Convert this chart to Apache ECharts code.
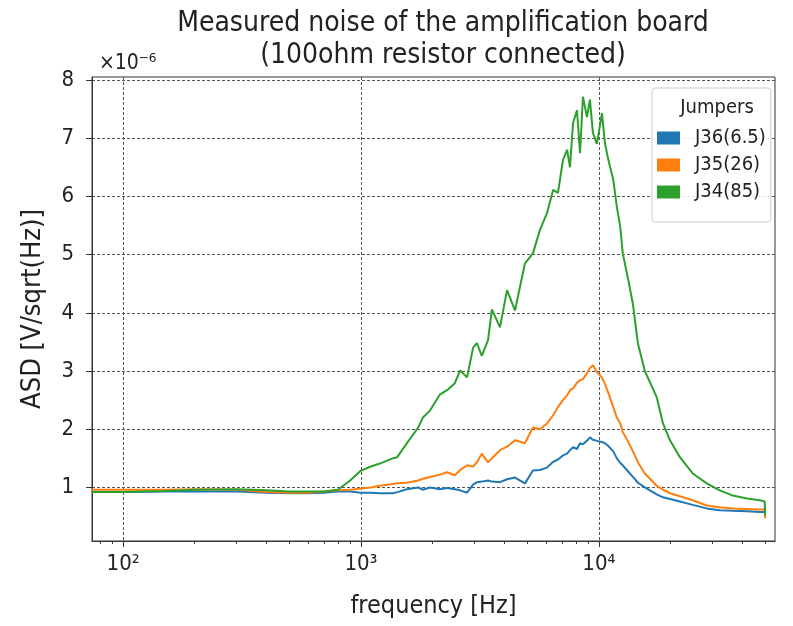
<!DOCTYPE html>
<html>
<head>
<meta charset="utf-8">
<script src="https://cdn.jsdelivr.net/npm/echarts@6/dist/echarts.min.js"></script>
<style>
  html, body { margin: 0; padding: 0; background: #fff; }
  #main { width: 793px; height: 626px; }
</style>
</head>
<body>
<div id="main"></div>
<script>
// frequency grid [Hz]
var freq = [74, 100, 150, 200, 300, 400, 500, 600, 700, 800, 900, 1000, 1100, 1200, 1360, 1420,
  1560, 1740, 1820, 1950, 2150, 2300, 2480, 2610, 2790, 2960, 3070, 3220, 3420, 3550, 3840, 4110,
  4440, 4890, 5280, 5650, 6050, 6420, 6730, 7060, 7350, 7560, 7790, 8090, 8330, 8570, 8910, 9170,
  9440, 9810, 10300, 10600, 10900, 11500, 11900, 12300, 12600, 13300, 13900, 14600, 15600, 17500,
  18600, 19900, 21900, 24800, 28400, 32200, 36600, 41900, 47500, 49800, 50000];

// ASD values, x1e-6 V/sqrt(Hz)
var j36 = [0.92, 0.92, 0.93, 0.93, 0.93, 0.91, 0.90, 0.90, 0.91, 0.93, 0.93, 0.91, 0.91, 0.90, 0.90, 0.92,
  0.97, 1.00, 0.96, 1.00, 0.97, 0.99, 0.97, 0.95, 0.91, 1.05, 1.09, 1.10, 1.12, 1.10, 1.09, 1.14,
  1.17, 1.07, 1.29, 1.30, 1.34, 1.44, 1.48, 1.55, 1.58, 1.64, 1.69, 1.66, 1.76, 1.74, 1.80, 1.86,
  1.82, 1.80, 1.78, 1.76, 1.72, 1.62, 1.50, 1.42, 1.38, 1.27, 1.18, 1.08, 1.00, 0.88,
  0.83, 0.80, 0.76, 0.70, 0.64, 0.61, 0.60, 0.59, 0.58, 0.58, 0.55];

var j35 = [0.96, 0.96, 0.96, 0.97, 0.96, 0.92, 0.91, 0.91, 0.93, 0.95, 0.96, 0.98, 1.00, 1.03, 1.06, 1.07,
  1.08, 1.12, 1.15, 1.18, 1.22, 1.26, 1.21, 1.30, 1.38, 1.36, 1.43, 1.58, 1.43, 1.50, 1.64, 1.70,
  1.81, 1.76, 2.03, 2.00, 2.10, 2.24, 2.38, 2.50, 2.58, 2.67, 2.70, 2.80, 2.84, 2.86, 2.96, 3.05,
  3.10, 2.98, 2.89, 2.78, 2.65, 2.38, 2.20, 2.10, 1.95, 1.78, 1.62, 1.43, 1.24, 1.03,
  0.96, 0.90, 0.85, 0.78, 0.69, 0.66, 0.64, 0.63, 0.62, 0.62, 0.47];

var j34 = [0.92, 0.92, 0.94, 0.96, 0.97, 0.95, 0.93, 0.93, 0.93, 0.96, 1.12, 1.29, 1.36, 1.41, 1.50, 1.52,
  1.76, 2.03, 2.20, 2.32, 2.60, 2.67, 2.79, 3.01, 2.89, 3.40, 3.48, 3.26, 3.53, 4.06, 3.75, 4.39,
  4.04, 4.85, 5.02, 5.42, 5.71, 6.11, 6.06, 6.62, 6.80, 6.50, 7.26, 7.48, 6.74, 7.71, 7.36, 7.66,
  7.09, 6.90, 7.43, 6.92, 6.67, 6.28, 5.82, 5.47, 5.02, 4.56, 4.15, 3.47, 3.00, 2.55,
  2.10, 1.81, 1.52, 1.24, 1.07, 0.95, 0.86, 0.81, 0.78, 0.76, 0.52];

var seriesNames = ['J36(6.5)', 'J35(26)', 'J34(85)'];
var colors = ['#1f77b4', '#ff7f0e', '#2ca02c'];
var xMajor = [100, 1000, 10000];
var xMinor = [80, 90, 200, 300, 400, 500, 600, 700, 800, 900, 2000, 3000, 4000, 5000, 6000, 7000, 8000, 9000, 20000, 30000, 40000, 50000];
var yTicks = [1, 2, 3, 4, 5, 6, 7, 8];

function pairs(vals) {
    var out = [];
    for (var i = 0; i < freq.length; i++) out.push([freq[i], vals[i]]);
    return out;
}

var myChart = echarts.init(document.getElementById('main'));
var font = "'DejaVu Sans Condensed', 'DejaVu Sans'";
var sup = { 100: '10²', 1000: '10³', 10000: '10⁴' };

var option = {
    animation: false,
    color: colors,
    textStyle: { fontFamily: font },
    title: [
        {
            text: 'Measured noise of the amplification board\n(100ohm resistor connected)',
            left: 438, top: 3, textAlign: 'center',
            textStyle: { fontSize: 28, fontWeight: 'normal', color: '#222', lineHeight: 32, fontFamily: font }
        },
        {
            text: '×10⁻⁶', left: 94, top: 48,
            textStyle: { fontSize: 21, fontWeight: 'normal', color: '#222', fontFamily: font }
        },
        {
            text: 'Jumpers', left: 712, top: 93, textAlign: 'center',
            textStyle: { fontSize: 20, fontWeight: 'normal', color: '#222', fontFamily: font }
        }
    ],
    legend: {
        orient: 'vertical',
        left: 652, top: 88,
        padding: [38, 5, 18, 5],
        itemGap: 3,
        itemWidth: 23, itemHeight: 13,
        icon: 'rect',
        borderColor: '#ccc', borderWidth: 1, borderRadius: 3,
        backgroundColor: 'rgba(255,255,255,0.85)',
        textStyle: { fontSize: 20, color: '#222', fontFamily: font, padding: [0, 0, 0, 10], lineHeight: 24 },
        data: seriesNames
    },
    grid: {
        left: 92, right: 18, top: 77, bottom: 85,
        show: true, borderColor: '#333', borderWidth: 1, backgroundColor: '#fff'
    },
    xAxis: [
        {
            type: 'log', logBase: 10, min: 74, max: 55000,
            name: 'frequency [Hz]', nameLocation: 'middle', nameGap: 53,
            nameTextStyle: { fontSize: 25, color: '#222', fontFamily: font },
            axisLine: { lineStyle: { color: '#333' } },
            axisTick: { customValues: xMajor, length: 6, lineStyle: { color: '#333' } },
            axisLabel: {
                customValues: xMajor, fontSize: 22, color: '#222', margin: 12,
                formatter: function (v) { return sup[Math.round(v)] || ''; }
            },
            splitLine: { show: true, lineStyle: { color: '#555', type: [3, 2], width: 1 } }
        },
        {
            type: 'log', logBase: 10, min: 74, max: 55000, position: 'bottom',
            axisLine: { show: false },
            axisTick: { customValues: xMinor, length: 3, lineStyle: { color: '#333' } },
            axisLabel: { show: false },
            splitLine: { show: false }
        }
    ],
    yAxis: {
        type: 'value', min: 0.08, max: 8.05,
        name: 'ASD [V/sqrt(Hz)]', nameLocation: 'middle', nameGap: 46, nameRotate: 90,
        nameTextStyle: { fontSize: 27, color: '#222', fontFamily: font },
        axisLine: { show: true, lineStyle: { color: '#333' } },
        axisTick: { show: true, customValues: yTicks, length: 6, lineStyle: { color: '#333' } },
        axisLabel: { customValues: yTicks, fontSize: 22, color: '#222', margin: 18 },
        splitLine: { show: true, lineStyle: { color: '#555', type: [3, 2], width: 1 } }
    },
    series: [
        { name: seriesNames[0], type: 'line', data: pairs(j36), showSymbol: false, lineStyle: { width: 2 }, z: 3 },
        { name: seriesNames[1], type: 'line', data: pairs(j35), showSymbol: false, lineStyle: { width: 2 }, z: 4 },
        { name: seriesNames[2], type: 'line', data: pairs(j34), showSymbol: false, lineStyle: { width: 2 }, z: 5 }
    ]
};
myChart.setOption(option);
</script>
</body>
</html>
